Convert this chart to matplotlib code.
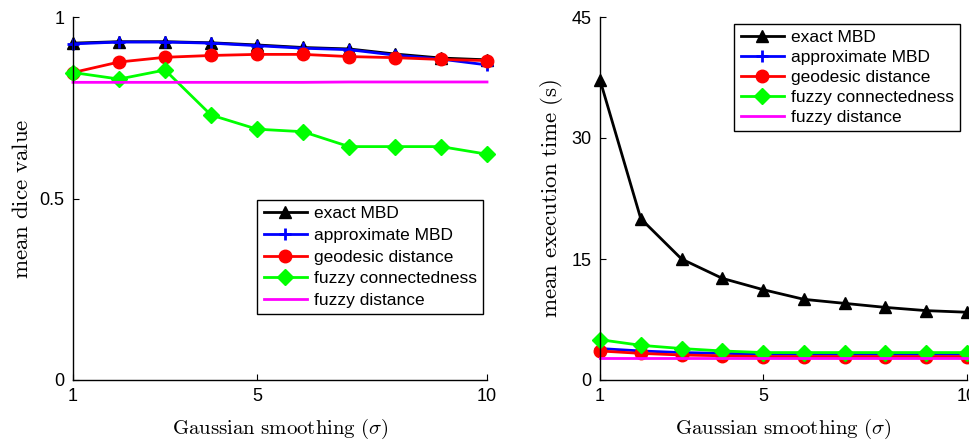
import matplotlib
matplotlib.use("Agg")
import matplotlib.pyplot as plt

plt.rcParams['font.family'] = ['Liberation Sans', 'DejaVu Sans']
plt.rcParams['mathtext.fontset'] = 'cm'

sigma = [1, 2, 3, 4, 5, 6, 7, 8, 9, 10]
series_names = ["exact MBD", "approximate MBD", "geodesic distance",
                "fuzzy connectedness", "fuzzy distance"]

dice_exact = [0.928, 0.932, 0.932, 0.929, 0.923, 0.916, 0.912, 0.898, 0.887, 0.882]
dice_approx = [0.926, 0.931, 0.931, 0.928, 0.921, 0.914, 0.910, 0.895, 0.884, 0.868]
dice_geo = [0.847, 0.876, 0.889, 0.894, 0.897, 0.897, 0.891, 0.888, 0.883, 0.880]
dice_fc = [0.847, 0.829, 0.854, 0.730, 0.691, 0.684, 0.643, 0.643, 0.643, 0.622]
dice_fd = [0.820, 0.820, 0.820, 0.820, 0.820, 0.820, 0.821, 0.821, 0.821, 0.821]

time_exact = [37.2, 20.0, 15.0, 12.6, 11.2, 10.0, 9.5, 9.0, 8.6, 8.4]
time_approx = [3.9, 3.6, 3.4, 3.3, 3.2, 3.2, 3.2, 3.2, 3.2, 3.2]
time_geo = [3.6, 3.3, 3.1, 3.0, 2.9, 2.9, 2.9, 2.9, 2.9, 2.9]
time_fc = [5.0, 4.3, 3.9, 3.6, 3.4, 3.4, 3.4, 3.4, 3.4, 3.4]
time_fd = [2.7, 2.7, 2.7, 2.7, 2.7, 2.7, 2.7, 2.7, 2.7, 2.7]

styles = [
    dict(color=(0, 0, 0), marker='^', markersize=9),
    dict(color=(0, 0, 1), marker='+', markersize=8, markeredgewidth=2),
    dict(color=(1, 0, 0), marker='o', markersize=9),
    dict(color=(0, 1, 0), marker='D', markersize=8),
    dict(color=(1, 0, 1), marker=None),
]

fig = plt.figure(figsize=(9.7, 4.41), dpi=100)
ax1 = fig.add_axes([73/970, 1-380/441, (487-73)/970, (380-17)/441])
ax2 = fig.add_axes([600/970, 1-380/441, (967-600)/970, (380-17)/441])

def draw(ax, data, yticks, ylabels, ylabel):
    for d, name, st in zip(data, series_names, styles):
        ax.plot(sigma, d, lw=2, label=name, clip_on=False, **st)
    ax.set_xlim(1, 10)
    ax.set_ylim(yticks[0], yticks[-1])
    ax.set_xticks([1, 5, 10])
    ax.set_xticklabels(['1', '5', '10'])
    ax.set_yticks(yticks)
    ax.set_yticklabels(ylabels)
    ax.spines['top'].set_visible(False)
    ax.spines['right'].set_visible(False)
    for s in ('left', 'bottom'):
        ax.spines[s].set_linewidth(1.0)
    ax.tick_params(direction='in', length=4, labelsize=13, pad=6)
    ax.set_xlabel(r'$\mathrm{Gaussian\ smoothing\ }(\sigma)$', fontsize=15, labelpad=8)
    ax.set_ylabel(ylabel, fontsize=16.5, labelpad=5)

draw(ax1, [dice_exact, dice_approx, dice_geo, dice_fc, dice_fd],
     [0, 0.5, 1], ['0', '0.5', '1'], r'$\mathrm{mean\ dice\ value}$')
draw(ax2, [time_exact, time_approx, time_geo, time_fc, time_fd],
     [0, 15, 30, 45], ['0', '15', '30', '45'], r'$\mathrm{mean\ execution\ time\ (s)}$')

leg_kw = dict(fontsize=12.5, frameon=True, fancybox=False, framealpha=1,
              edgecolor='black', handlelength=2.5, handletextpad=0.4,
              borderpad=0.35, borderaxespad=0)
l1 = ax1.legend(loc='upper right', bbox_to_anchor=((483-73)/414, (380-200)/363),
                labelspacing=0.38, **leg_kw)
l2 = ax2.legend(loc='upper right', bbox_to_anchor=((960-600)/367, (380-24)/363),
                labelspacing=0.28, **leg_kw)
for l in (l1, l2):
    l.get_frame().set_linewidth(1.0)

fig.savefig('out.png', dpi=100)
